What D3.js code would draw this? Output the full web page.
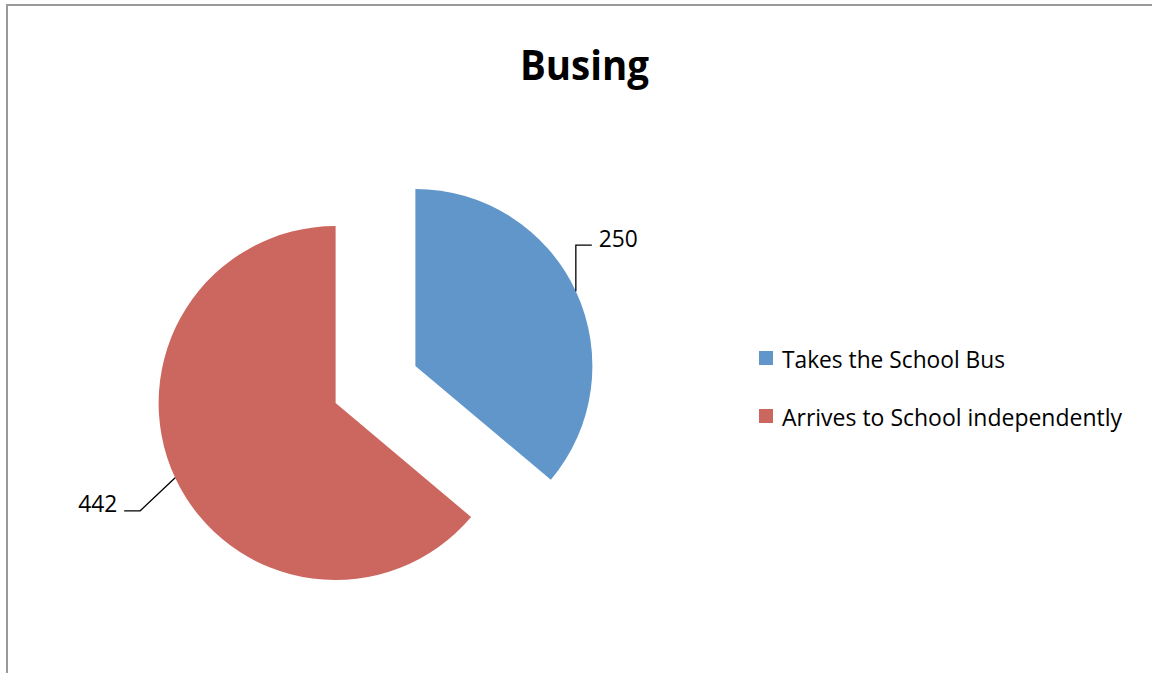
<!DOCTYPE html>
<html>
<head>
<meta charset="utf-8">
<script src="https://cdn.jsdelivr.net/npm/d3@7"></script>
<style>
  html, body { margin: 0; padding: 0; background: #fff; }
  svg { display: block; }
  text { font-family: "Open Sans", Lato, sans-serif; fill: #000; }
</style>
</head>
<body>
<svg id="chart" width="1152" height="673"></svg>
<script>
const title = "Busing";
const categories = ["Takes the School Bus", "Arrives to School independently"];
const values = [250, 442];
const colors = ["#6096CA", "#CC6760"];

const svg = d3.select("#chart");

// stretch a text element to a given advance width
function fitWidth(sel, w) {
  sel.attr("textLength", w).attr("lengthAdjust", "spacingAndGlyphs");
}

// chart frame (runs past the right and bottom edges of the view)
svg.append("rect")
  .attr("x", 7).attr("y", 5)
  .attr("width", 1200).attr("height", 700)
  .attr("fill", "#fff")
  .attr("stroke", "#9a9a9a")
  .attr("stroke-width", 2);

svg.append("text")
  .attr("x", 520).attr("y", 80)
  .attr("font-size", 41)
  .attr("font-weight", "bold")
  .text(title)
  .call(fitWidth, 129);

const cx = 375.5, cy = 384.5, radius = 177, explode = 44;

const pie = d3.pie().sort(null).value(d => d)(values);
const arc = d3.arc().innerRadius(0).outerRadius(radius);

const slices = svg.append("g").attr("transform", `translate(${cx},${cy})`);

pie.forEach((p, i) => {
  const mid = (p.startAngle + p.endAngle) / 2;
  const ox = Math.sin(mid) * explode, oy = -Math.cos(mid) * explode;
  const g = slices.append("g").attr("transform", `translate(${ox},${oy})`);
  g.append("path").attr("d", arc(p)).attr("fill", colors[i]);

  // leader line from the rim at the slice's mid-angle
  const ex = Math.sin(mid) * radius, ey = -Math.cos(mid) * radius;
  let pts, tx, ty;
  if (Math.sin(mid) > 0) {
    pts = [[ex, ey], [ex, ey - 46], [ex + 16, ey - 46]];
    tx = ex + 23; ty = ey - 44;
  } else {
    pts = [[ex, ey], [ex - 35, ey + 33], [ex - 51, ey + 33]];
    tx = ex - 97; ty = ey + 34;
  }
  g.append("path")
    .attr("d", d3.line()(pts))
    .attr("fill", "none")
    .attr("stroke", "#000")
    .attr("stroke-width", 1.3);
  g.append("text")
    .attr("x", tx).attr("y", ty)
    .attr("font-size", 23)
    .text(values[i])
    .call(fitWidth, 39);
});

// legend
const legendWidths = [223, 340];
const legend = svg.append("g").attr("transform", "translate(759,351)");
categories.forEach((c, i) => {
  const row = legend.append("g").attr("transform", `translate(0,${i * 58})`);
  row.append("rect").attr("width", 14).attr("height", 14).attr("fill", colors[i]);
  row.append("text").attr("x", 23).attr("y", 17).attr("font-size", 23).text(c)
    .call(fitWidth, legendWidths[i]);
});
</script>
</body>
</html>
